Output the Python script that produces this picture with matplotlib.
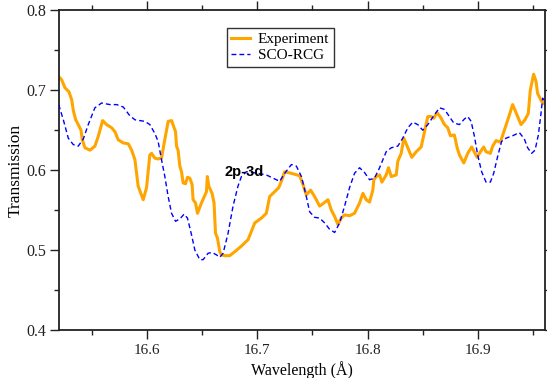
import matplotlib
matplotlib.use("Agg")
import matplotlib.pyplot as plt
from matplotlib.ticker import MultipleLocator, FormatStrFormatter

# measured spectrum (wavelength in Angstrom, transmission)
exp_wl = [16.5200, 16.5227, 16.5257, 16.5293, 16.5318, 16.5332, 16.5354, 16.5377,
          16.5402, 16.5414, 16.5438, 16.5483, 16.5528, 16.5558, 16.5598, 16.5634,
          16.5680, 16.5710, 16.5739, 16.5785, 16.5830, 16.5861, 16.5891, 16.5920,
          16.5966, 16.5996, 16.6026, 16.6042, 16.6071, 16.6101, 16.6132, 16.6156,
          16.6192, 16.6223, 16.6259, 16.6268, 16.6282, 16.6298, 16.6313, 16.6328,
          16.6349, 16.6367, 16.6388, 16.6409, 16.6418, 16.6440, 16.6458, 16.6494,
          16.6539, 16.6547, 16.6560, 16.6590, 16.6608, 16.6621, 16.6639, 16.6660,
          16.6675, 16.6705, 16.6750, 16.6796, 16.6856, 16.6916, 16.6977, 16.7037,
          16.7082, 16.7112, 16.7142, 16.7194, 16.7218, 16.7248, 16.7309, 16.7384,
          16.7414, 16.7444, 16.7483, 16.7519, 16.7565, 16.7604, 16.7640, 16.7671,
          16.7701, 16.7730, 16.7761, 16.7791, 16.7836, 16.7881, 16.7927, 16.7957,
          16.7987, 16.8017, 16.8047, 16.8056, 16.8078, 16.8108, 16.8129, 16.8168,
          16.8189, 16.8214, 16.8259, 16.8273, 16.8304, 16.8328, 16.8364, 16.8400,
          16.8440, 16.8485, 16.8515, 16.8545, 16.8576, 16.8599, 16.8630, 16.8666,
          16.8696, 16.8726, 16.8750, 16.8786, 16.8811, 16.8832, 16.8871, 16.8907,
          16.8943, 16.8992, 16.9022, 16.9052, 16.9073, 16.9112, 16.9133, 16.9164,
          16.9203, 16.9239, 16.9275, 16.9314, 16.9354, 16.9390, 16.9426, 16.9456,
          16.9474, 16.9504, 16.9526, 16.9540, 16.9576, 16.9610]
exp_tr = [0.717, 0.713, 0.703, 0.698, 0.688, 0.675, 0.663, 0.657,
          0.650, 0.638, 0.628, 0.625, 0.630, 0.642, 0.662, 0.657,
          0.653, 0.648, 0.638, 0.634, 0.633, 0.625, 0.613, 0.580,
          0.563, 0.578, 0.619, 0.621, 0.615, 0.614, 0.615, 0.634,
          0.661, 0.662, 0.648, 0.630, 0.625, 0.605, 0.598, 0.584,
          0.583, 0.591, 0.590, 0.582, 0.563, 0.559, 0.546, 0.559,
          0.573, 0.592, 0.580, 0.571, 0.559, 0.521, 0.515, 0.498,
          0.494, 0.493, 0.493, 0.498, 0.505, 0.513, 0.534, 0.540,
          0.546, 0.567, 0.571, 0.578, 0.586, 0.598, 0.596, 0.593,
          0.582, 0.569, 0.575, 0.567, 0.555, 0.559, 0.563, 0.550,
          0.542, 0.532, 0.540, 0.544, 0.543, 0.546, 0.559, 0.571,
          0.563, 0.560, 0.575, 0.588, 0.592, 0.594, 0.585, 0.594,
          0.603, 0.592, 0.594, 0.611, 0.621, 0.640, 0.628, 0.616,
          0.623, 0.629, 0.648, 0.667, 0.667, 0.665, 0.672, 0.665,
          0.657, 0.653, 0.643, 0.644, 0.628, 0.619, 0.609, 0.621,
          0.629, 0.616, 0.623, 0.629, 0.623, 0.621, 0.630, 0.637,
          0.635, 0.650, 0.665, 0.682, 0.669, 0.657, 0.663, 0.671,
          0.700, 0.720, 0.711, 0.696, 0.686, 0.682]

# SCO-RCG calculation
calc_wl = [16.5200, 16.5242, 16.5287, 16.5332, 16.5377, 16.5423, 16.5468, 16.5528,
           16.5589, 16.5664, 16.5725, 16.5785, 16.5845, 16.5891, 16.5981, 16.6026,
           16.6071, 16.6101, 16.6132, 16.6162, 16.6192, 16.6223, 16.6259, 16.6298,
           16.6337, 16.6367, 16.6404, 16.6434, 16.6479, 16.6509, 16.6554, 16.6590,
           16.6630, 16.6660, 16.6690, 16.6735, 16.6780, 16.6825, 16.6856, 16.6901,
           16.7006, 16.7082, 16.7142, 16.7203, 16.7248, 16.7309, 16.7354, 16.7400,
           16.7444, 16.7474, 16.7519, 16.7565, 16.7610, 16.7655, 16.7701, 16.7746,
           16.7791, 16.7836, 16.7881, 16.7927, 16.7972, 16.8017, 16.8062, 16.8108,
           16.8168, 16.8214, 16.8273, 16.8318, 16.8364, 16.8409, 16.8454, 16.8499,
           16.8545, 16.8599, 16.8651, 16.8696, 16.8741, 16.8780, 16.8832, 16.8877,
           16.8907, 16.8938, 16.8968, 16.8997, 16.9033, 16.9073, 16.9112, 16.9142,
           16.9178, 16.9214, 16.9254, 16.9314, 16.9375, 16.9420, 16.9450, 16.9486,
           16.9517, 16.9547, 16.9571, 16.9586, 16.9610]
calc_tr = [0.682, 0.663, 0.640, 0.632, 0.630, 0.639, 0.657, 0.678,
           0.684, 0.682, 0.682, 0.679, 0.668, 0.663, 0.661, 0.657,
           0.646, 0.636, 0.613, 0.592, 0.567, 0.546, 0.536, 0.539,
           0.545, 0.540, 0.519, 0.500, 0.488, 0.488, 0.496, 0.497,
           0.494, 0.491, 0.496, 0.521, 0.555, 0.580, 0.592, 0.598,
           0.596, 0.594, 0.590, 0.586, 0.596, 0.607, 0.605, 0.592,
           0.567, 0.548, 0.541, 0.540, 0.534, 0.526, 0.522, 0.534,
           0.555, 0.578, 0.596, 0.603, 0.597, 0.588, 0.590, 0.603,
           0.623, 0.628, 0.630, 0.640, 0.653, 0.660, 0.657, 0.650,
           0.657, 0.668, 0.678, 0.676, 0.667, 0.659, 0.657, 0.664,
           0.667, 0.661, 0.642, 0.619, 0.598, 0.585, 0.585, 0.596,
           0.617, 0.636, 0.640, 0.643, 0.647, 0.639, 0.628, 0.621,
           0.625, 0.644, 0.671, 0.690, 0.686]

plt.rcParams["font.family"] = ["Liberation Serif", "DejaVu Serif"]

fig = plt.figure(figsize=(5.47, 3.78), dpi=100)
ax = fig.add_axes([0.1073, 0.127, 0.8896, 0.8458])

ax.plot(exp_wl, exp_tr, color="#FFA500", lw=2.2, label="Experiment", zorder=2)
ax.plot(calc_wl, calc_tr, color="#0000FF", lw=1.0, dashes=(3.5, 2.2),
        label="SCO-RCG", zorder=3)

ax.text(16.6699, 0.5929, "2p-3d", family=["Liberation Sans", "DejaVu Sans"],
        fontweight="bold", fontsize=10.5, ha="left", va="baseline", zorder=4)

ax.set_xlim(16.52, 16.961)
ax.set_ylim(0.4, 0.8)
ax.xaxis.set_major_locator(MultipleLocator(0.1))
ax.xaxis.set_minor_locator(MultipleLocator(0.05))
ax.yaxis.set_major_locator(MultipleLocator(0.1))
ax.yaxis.set_minor_locator(MultipleLocator(0.05))
ax.yaxis.set_major_formatter(FormatStrFormatter("%.1f"))
ax.xaxis.set_major_formatter(FormatStrFormatter("%.1f"))

ax.tick_params(which="both", direction="out", top=True, right=True,
               width=1.0, labelsize=11, colors="#222222")
ax.tick_params(which="major", length=6.3)
ax.tick_params(which="minor", length=3.8)
ax.tick_params(axis="x", which="major", pad=4)
ax.tick_params(axis="y", which="major", pad=2.5, labelsize=11.5)
for sp in ax.spines.values():
    sp.set_linewidth(1.3)
    sp.set_color("#222222")

ax.set_xlabel("Wavelength (Å)", fontsize=11.5, labelpad=3)
ax.set_ylabel("Transmission", fontsize=12.5, labelpad=2)

leg = ax.legend(loc="upper left", bbox_to_anchor=(0.345, 0.944), borderaxespad=0,
                fontsize=11, handlelength=1.25, handletextpad=0.5,
                labelspacing=0.12, borderpad=0.3, fancybox=False,
                framealpha=1, edgecolor="#333333")
leg.get_frame().set_linewidth(1.0)

fig.savefig("out.png", dpi=100)
